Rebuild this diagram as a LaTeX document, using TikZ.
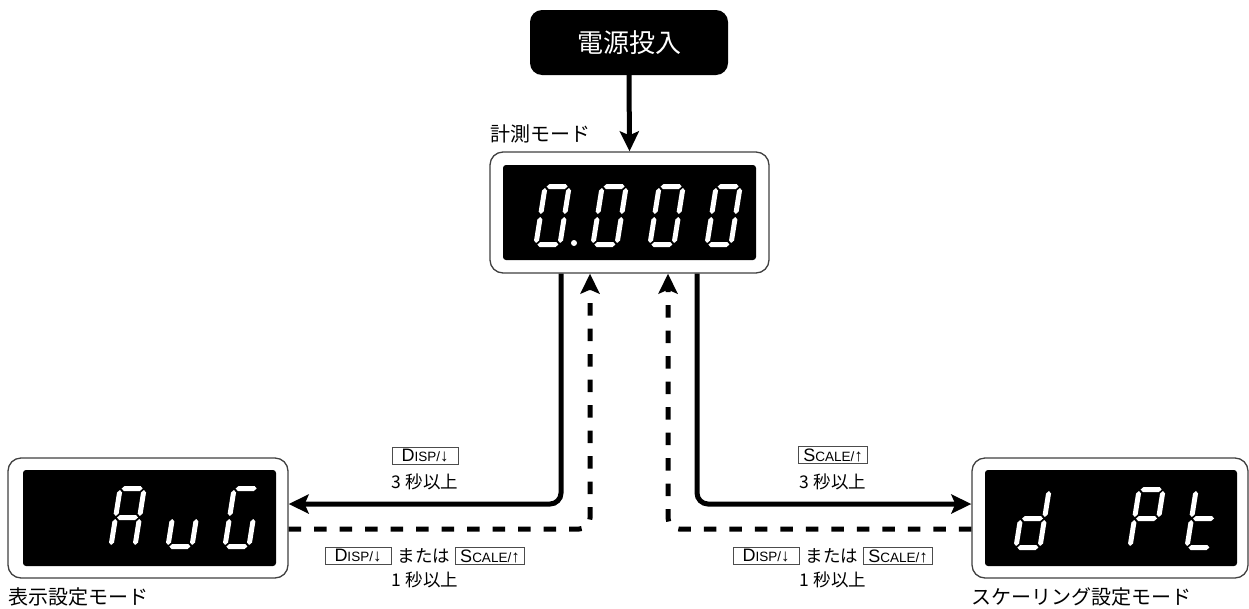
\documentclass[tikz,border=0pt]{standalone}
\usepackage{fontspec}
\setmainfont{Noto Sans CJK JP}
\newfontfamily\keyfont{Liberation Sans}
\usetikzlibrary{arrows.meta}
% seven-segment pieces (local units, y up, origin bottom-left of digit)
\def\SEGa{\fill[white] (4,60.5)--(6.5,63)--(22.5,63)--(25,60.5)--(22.5,58)--(6.5,58)--cycle;}
\def\SEGg{\fill[white] (4,31.5)--(6.5,34)--(22.5,34)--(25,31.5)--(22.5,29)--(6.5,29)--cycle;}
\def\SEGd{\fill[white] (4,2.5)--(6.5,5)--(22.5,5)--(25,2.5)--(22.5,0)--(6.5,0)--cycle;}
\def\SEGf{\fill[white] (2.5,33)--(5,35.5)--(5,56.5)--(2.5,59)--(0,56.5)--(0,35.5)--cycle;}
\def\SEGe{\fill[white] (2.5,4)--(5,6.5)--(5,27.5)--(2.5,30)--(0,27.5)--(0,6.5)--cycle;}
\def\SEGb{\fill[white] (26.5,33)--(29,35.5)--(29,56.5)--(26.5,59)--(24,56.5)--(24,35.5)--cycle;}
\def\SEGc{\fill[white] (26.5,4)--(29,6.5)--(29,27.5)--(26.5,30)--(24,27.5)--(24,6.5)--cycle;}
\newcommand\sevdigit[3]{%
  \begin{scope}[shift={(#1,#2)},x=1pt,y=1pt,xslant=0.16]
    \foreach \s in {#3}{\csname SEG\s\endcsname}
  \end{scope}}
\newcommand\keyD{{\fontsize{18}{17}\selectfont D}{\fontsize{13.5}{12}\selectfont ISP/}{\fontsize{17}{17}\selectfont ↓}}
\newcommand\keyS{{\fontsize{18}{17}\selectfont S}{\fontsize{13.5}{12}\selectfont CALE/}{\fontsize{17}{17}\selectfont ↑}}
\tikzset{
  dispbox/.style={draw=black!75, line width=1.3pt, rounded corners=13pt, fill=white, inner sep=0pt},
  dispinner/.style={fill=black, rounded corners=3pt, inner sep=0pt},
  pwrbox/.style={fill=black, rounded corners=12pt, text=white, inner sep=0pt,
    minimum width=198pt, minimum height=65pt, font=\fontsize{26}{30}\selectfont},
  modelabel/.style={inner sep=0pt, font=\fontsize{20}{24}\selectfont},
  lbl/.style={inner sep=0pt, font=\fontsize{17.5}{20}\selectfont},
  keyd/.style={draw=black!70, line width=0.8pt, inner sep=0pt, minimum width=66pt, minimum height=17pt, font=\keyfont},
  keys/.style={keyd, minimum width=69pt},
  solidarr/.style={line width=5pt, rounded corners=11pt, -{Stealth[length=20pt,width=19pt,inset=4pt]}},
  dasharr/.style={solidarr, dash pattern=on 12.5pt off 13pt},
}
\begin{document}
\begin{tikzpicture}[x=1pt,y=-1pt]
\useasboundingbox (0,0) rectangle (1249,608);
% power on
\node[pwrbox] (pwr) at (629,42.5) {電源投入};
% main display
\node[dispbox, minimum width=279pt, minimum height=121pt] (main) at (629.5,212.5) {};
\node[dispinner, minimum width=253pt, minimum height=95pt] (maininner) at (629.5,212.5) {};
\node[modelabel, anchor=west] (mainlbl) at (490,134) {計測モード};
\sevdigit{533}{247}{a,b,c,d,e,f}
\sevdigit{590}{247}{a,b,c,d,e,f}
\sevdigit{647}{247}{a,b,c,d,e,f}
\sevdigit{704}{247}{a,b,c,d,e,f}
\fill[white] (574,243) circle (3);
% left display
\node[dispbox, minimum width=280pt, minimum height=120pt] (left) at (148,518) {};
\node[dispinner, minimum width=253pt, minimum height=96pt] (leftinner) at (149.5,518) {};
\node[modelabel, anchor=west] (leftlbl) at (8,597) {表示設定モード};
\sevdigit{108}{549}{a,b,c,e,f,g}
\sevdigit{165}{549}{c,d,e}
\sevdigit{222}{549}{a,c,d,e,f}
% right display
\node[dispbox, minimum width=276pt, minimum height=120pt] (right) at (1110,518) {};
\node[dispinner, minimum width=252pt, minimum height=96pt] (rightinner) at (1111,518) {};
\node[modelabel, anchor=west] (rightlbl) at (971,597) {スケーリング設定モード};
\sevdigit{1013}{550}{b,c,d,e,g}
\sevdigit{1127}{550}{a,b,e,f,g}
\sevdigit{1184}{550}{d,e,f,g}
% connectors
\draw[solidarr] (pwr.south) -- (main.north);
\draw[solidarr] (561,0 |- main.south) -- (561,504) -- (left.east |- 0,504);
\draw[solidarr] (697,0 |- main.south) -- (697,504) -- (right.west |- 0,504);
\draw[dasharr] (left.east |- 0,529) -- (590,529) -- (590,0 |- main.south);
\draw[dasharr] (right.west |- 0,529) -- (668,529) -- (668,0 |- main.south);
% labels left
\node[keyd] (kd1) at (425,456) {\keyD};
\node[lbl] (t1) at (425,482) {3 秒以上};
\node[keyd] (kd2) at (358,556) {\keyD};
\node[lbl] (or1) at (424,556) {または};
\node[keys] (ks2) at (490,556) {\keyS};
\node[lbl] (t2) at (425,580) {1 秒以上};
% labels right
\node[keys] (ks3) at (833,455) {\keyS};
\node[lbl] (t3) at (833,482) {3 秒以上};
\node[keyd] (kd4) at (766,556) {\keyD};
\node[lbl] (or2) at (832,556) {または};
\node[keys] (ks4) at (898,556) {\keyS};
\node[lbl] (t4) at (833,580) {1 秒以上};
\end{tikzpicture}
\end{document}
